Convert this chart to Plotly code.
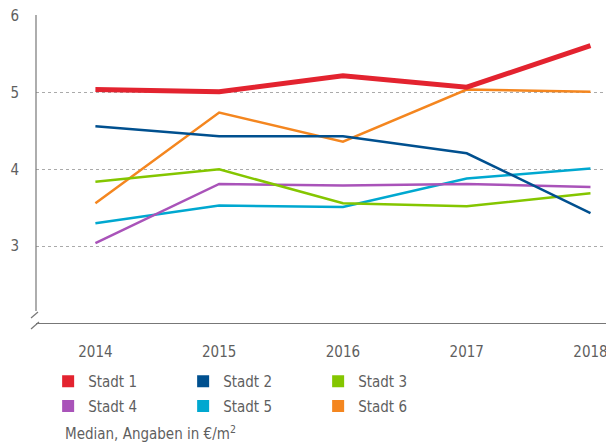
import plotly.graph_objects as go

jahre = [2014, 2015, 2016, 2017, 2018]
staedte = ["Stadt 1", "Stadt 2", "Stadt 3", "Stadt 4", "Stadt 5", "Stadt 6"]
werte = {
    "Stadt 1": [5.04, 5.01, 5.22, 5.07, 5.61],
    "Stadt 2": [4.56, 4.43, 4.43, 4.21, 3.43],
    "Stadt 3": [3.84, 4.00, 3.56, 3.52, 3.69],
    "Stadt 4": [3.04, 3.81, 3.79, 3.81, 3.77],
    "Stadt 5": [3.30, 3.53, 3.51, 3.88, 4.01],
    "Stadt 6": [3.56, 4.74, 4.36, 5.04, 5.01],
}
farben = {
    "Stadt 1": "#e3232f",
    "Stadt 2": "#00508f",
    "Stadt 3": "#84c600",
    "Stadt 4": "#a953b9",
    "Stadt 5": "#00a8d0",
    "Stadt 6": "#f4861f",
}
y_ticks = [3, 4, 5, 6]

schrift = "DejaVu Sans Condensed, Liberation Sans Narrow, sans-serif"
grau = "#5f5f5f"
achse = "#777777"

fig = go.Figure()

# Linien zuerst (Stadt 1 oben drauf)
for name in reversed(staedte):
    fig.add_trace(go.Scatter(
        x=jahre, y=werte[name], mode="lines", name=name,
        line=dict(color=farben[name], width=5 if name == "Stadt 1" else 2.5),
        showlegend=False,
    ))

# Legende mit Quadraten, zwei Zeilen
for i, name in enumerate(staedte):
    fig.add_trace(go.Scatter(
        x=[None], y=[None], mode="markers", name=name,
        marker=dict(symbol="square", size=12, color=farben[name]),
        legend="legend" if i < 3 else "legend2",
    ))

leg = dict(
    orientation="h", x=0.021, xanchor="left", yanchor="top",
    entrywidth=90, entrywidthmode="pixels",
    font=dict(size=15, color=grau), itemsizing="trace",
)

def bruch(x0, x1, y0, y1):
    return dict(type="line", xref="paper", yref="paper",
                xsizemode="pixel", ysizemode="pixel", xanchor=0, yanchor=0,
                x0=x0, x1=x1, y0=y0, y1=y1, line=dict(color=achse, width=1.2))

fig.update_layout(
    width=606, height=440,
    margin=dict(l=28, r=0, t=7, b=125),
    paper_bgcolor="white", plot_bgcolor="white",
    font=dict(family=schrift, size=14, color=grau),
    legend=dict(leg, y=-0.136),
    legend2=dict(leg, y=-0.217),
    annotations=[dict(
        text="Median, Angaben in €/m<sup>2</sup>", xref="paper", yref="paper",
        x=0.047, y=-0.356, xanchor="left", yanchor="middle", showarrow=False,
        font=dict(size=15, color=grau),
    )],
    shapes=[
        # y-Achse mit Achsenbruch
        bruch(0, 0, 12, 308),
        bruch(-5, 2, 5, 11),
        bruch(-5, 3, -6, 1),
    ],
)

fig.update_xaxes(
    range=[2013.52, 2018.19], tickvals=jahre, showgrid=False,
    showline=True, linecolor=achse, linewidth=1.2,
    ticks="", ticklabelstandoff=15, zeroline=False, automargin=False,
    tickfont=dict(size=15, color=grau),
)
fig.update_yaxes(
    range=[2, 6.01], tickvals=y_ticks, showgrid=True,
    gridcolor="#aaaaaa", griddash="dot", gridwidth=1,
    showline=False, ticks="", ticklabelstandoff=16, zeroline=False, automargin=False,
    ticklabeloverflow="allow", tickfont=dict(size=15, color=grau),
)

fig.write_html("out.html")
